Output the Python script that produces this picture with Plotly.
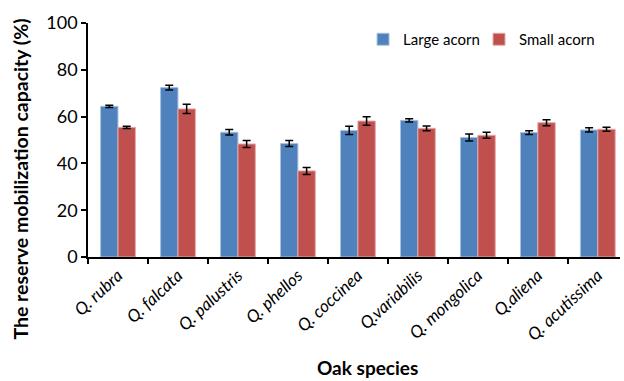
import plotly.graph_objects as go

# Reserve mobilization capacity (%) by oak species and acorn size
species = ["Q. rubra", "Q. falcata", "Q. palustris", "Q. phellos", "Q. coccinea",
           "Q.variabilis", "Q. mongolica", "Q.aliena", "Q. acutissima"]
large_mean = [64.4, 72.4, 53.3, 48.5, 54.1, 58.4, 51.1, 53.2, 54.3]
large_err = [0.5, 1.0, 1.2, 1.3, 1.8, 0.7, 1.5, 0.8, 0.9]
small_mean = [55.4, 63.3, 48.3, 36.8, 58.1, 55.0, 52.0, 57.4, 54.6]
small_err = [0.5, 2.0, 1.5, 1.5, 1.8, 1.0, 1.3, 1.3, 0.9]

FONT = "Lato"
BLUE = "#4F81BD"
RED = "#C0504D"

ticktext = ["<i>%s</i>" % s for s in species]

fig = go.Figure()
fig.add_trace(go.Bar(
    name="Large acorn", x=species, y=large_mean, legend="legend",
    marker=dict(color=BLUE, line=dict(color="#A9C1DF", width=1)),
    error_y=dict(type="data", array=large_err, color="black", thickness=1.5, width=4),
))
fig.add_trace(go.Bar(
    name="Small acorn", x=species, y=small_mean, legend="legend2",
    marker=dict(color=RED, line=dict(color="#E2AAA9", width=1)),
    error_y=dict(type="data", array=small_err, color="black", thickness=1.5, width=4),
))

legend_style = dict(orientation="h", yanchor="top", xanchor="left",
                    font=dict(size=15, color="black"), bgcolor="rgba(0,0,0,0)",
                    itemwidth=30)

fig.update_layout(
    width=624, height=381,
    margin=dict(l=88, r=4, t=23, b=124),
    paper_bgcolor="white", plot_bgcolor="white",
    barmode="group", bargap=0.42, bargroupgap=0,
    font=dict(family=FONT, color="black"),
    showlegend=True,
    legend=dict(legend_style, x=0.517, y=1.0),
    legend2=dict(legend_style, x=0.735, y=1.0),
    xaxis=dict(
        type="category", range=[-0.5, 8.37],
        tickmode="array", tickvals=species, ticktext=ticktext,
        tickangle=-43, tickfont=dict(size=17, color="black"),
        tickson="boundaries", ticks="outside", ticklen=5, tickwidth=1.5, tickcolor="black",
        showline=True, linecolor="black", linewidth=2,
        showgrid=False, zeroline=False,
    ),
    yaxis=dict(
        range=[0, 100], dtick=20, tick0=0,
        tickfont=dict(size=18, color="black"),
        ticks="outside", ticklen=5, tickwidth=1.5, tickcolor="black",
        showline=True, linecolor="black", linewidth=1.5,
        showgrid=False, zeroline=False,
    ),
    annotations=[
        dict(text="<b>The reserve mobilization capacity (%)</b>", textangle=-90,
             xref="paper", yref="paper", x=-0.126, y=0.335,
             xanchor="center", yanchor="middle", showarrow=False,
             font=dict(size=19.5, color="black")),
        dict(text="<b>Oak species</b>",
             xref="paper", yref="paper", x=0.525, y=-0.474,
             xanchor="center", yanchor="middle", showarrow=False,
             font=dict(size=19, color="black")),
    ],
)

fig.write_html("out.html")
